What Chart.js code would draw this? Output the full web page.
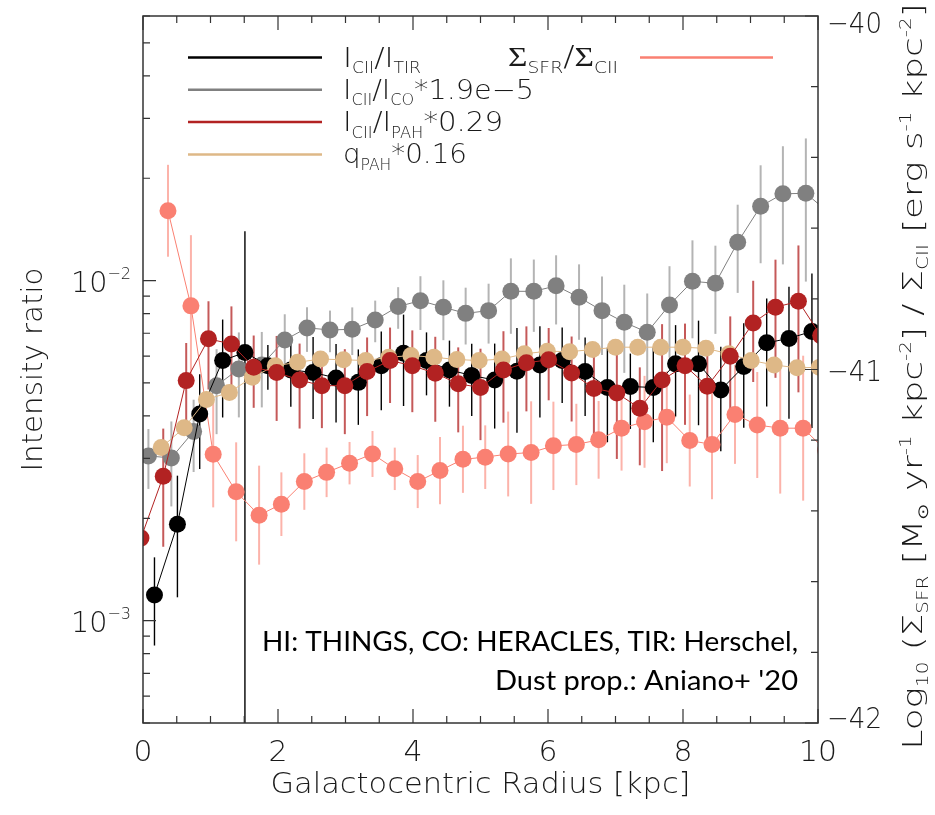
<!DOCTYPE html>
<html>
<head>
<meta charset="utf-8">
<script src="https://cdn.jsdelivr.net/npm/chart.js@4.4.1/dist/chart.umd.min.js"></script>
<style>
  body { margin: 0; background: #fff; }
  canvas { display: block; }
</style>
</head>
<body>
<canvas id="chart" width="935" height="815"></canvas>
<script>
// radii (kpc) of each profile, bins are slightly shifted per series
const radiusTIR = [0.17, 0.51, 0.84, 1.18, 1.51, 1.85, 2.19, 2.52, 2.86, 3.19, 3.53, 3.86, 4.20, 4.54, 4.87, 5.21, 5.54, 5.88, 6.21, 6.55, 6.88, 7.22, 7.56, 7.89, 8.23, 8.56, 8.90, 9.24, 9.57, 9.91];
const ratioTIR = [1.19e-3, 1.92e-3, 4.05e-3, 5.82e-3, 6.15e-3, 5.62e-3, 5.46e-3, 5.37e-3, 5.17e-3, 5.02e-3, 5.62e-3, 6.11e-3, 5.82e-3, 5.46e-3, 5.26e-3, 5.10e-3, 5.41e-3, 5.65e-3, 5.82e-3, 5.40e-3, 4.85e-3, 4.88e-3, 4.85e-3, 5.69e-3, 5.69e-3, 4.77e-3, 5.59e-3, 6.56e-3, 6.76e-3, 7.09e-3];
const errTIR = [0.29, 0.39, 0.31, 0.32, 1.27, 0.15, 0.22, 0.27, 0.26, 0.25, 0.26, 0.30, 0.21, 0.22, 0.24, 0.28, 0.34, 0.30, 0.25, 0.26, 0.31, 0.25, 0.31, 0.30, 0.34, 0.34, 0.34, 0.35, 0.42, 0.48];

const radiusCO = [0.08, 0.42, 0.75, 1.09, 1.42, 1.76, 2.10, 2.43, 2.77, 3.10, 3.44, 3.78, 4.11, 4.45, 4.78, 5.12, 5.45, 5.79, 6.12, 6.46, 6.80, 7.13, 7.47, 7.80, 8.14, 8.48, 8.81, 9.15, 9.48, 9.82, 10.15];
const ratioCO = [3.05e-3, 3.01e-3, 3.60e-3, 4.91e-3, 5.50e-3, 5.65e-3, 6.69e-3, 7.26e-3, 7.16e-3, 7.19e-3, 7.66e-3, 8.39e-3, 8.73e-3, 8.35e-3, 8.01e-3, 8.16e-3, 9.30e-3, 9.30e-3, 9.65e-3, 8.93e-3, 8.16e-3, 7.54e-3, 7.05e-3, 8.48e-3, 9.95e-3, 9.82e-3, 1.296e-2, 1.654e-2, 1.80e-2, 1.806e-2, 1.59e-2];
const errCO = [0.20, 0.28, 0.24, 0.28, 0.28, 0.25, 0.19, 0.15, 0.14, 0.16, 0.14, 0.14, 0.18, 0.20, 0.19, 0.20, 0.25, 0.24, 0.23, 0.25, 0.26, 0.29, 0.30, 0.30, 0.32, 0.29, 0.29, 0.32, 0.38, 0.45, 0.45];

const radiusPAH = [-0.03, 0.30, 0.64, 0.97, 1.31, 1.64, 1.98, 2.32, 2.65, 2.99, 3.32, 3.66, 3.99, 4.33, 4.67, 5.00, 5.34, 5.68, 6.01, 6.35, 6.68, 7.02, 7.36, 7.69, 8.03, 8.36, 8.70, 9.04, 9.37, 9.71, 10.04];
const ratioPAH = [1.75e-3, 2.66e-3, 5.08e-3, 6.74e-3, 6.51e-3, 5.56e-3, 5.37e-3, 5.10e-3, 4.91e-3, 4.91e-3, 5.40e-3, 5.82e-3, 5.62e-3, 5.34e-3, 4.97e-3, 4.85e-3, 5.46e-3, 5.73e-3, 5.85e-3, 5.35e-3, 4.82e-3, 4.67e-3, 4.21e-3, 5.10e-3, 5.62e-3, 4.89e-3, 5.99e-3, 7.51e-3, 8.35e-3, 8.69e-3, 6.89e-3];
const errPAH = [0.35, 0.38, 0.29, 0.29, 0.29, 0.24, 0.28, 0.28, 0.25, 0.28, 0.26, 0.25, 0.27, 0.28, 0.28, 0.30, 0.30, 0.28, 0.24, 0.28, 0.32, 0.36, 0.32, 0.46, 0.33, 0.33, 0.31, 0.33, 0.38, 0.46, 0.46];

const radiusQ = [0.27, 0.61, 0.94, 1.28, 1.62, 1.96, 2.29, 2.63, 2.97, 3.30, 3.64, 3.97, 4.31, 4.65, 4.98, 5.32, 5.65, 5.99, 6.32, 6.66, 7.00, 7.33, 7.67, 8.00, 8.34, 8.68, 9.01, 9.35, 9.69, 10.02];
const qPAH = [3.23e-3, 3.69e-3, 4.47e-3, 4.69e-3, 5.20e-3, 5.62e-3, 5.75e-3, 5.88e-3, 5.85e-3, 5.82e-3, 5.95e-3, 6.02e-3, 5.95e-3, 5.86e-3, 5.82e-3, 5.88e-3, 6.09e-3, 6.20e-3, 6.18e-3, 6.27e-3, 6.37e-3, 6.37e-3, 6.37e-3, 6.37e-3, 6.32e-3, 6.09e-3, 5.82e-3, 5.65e-3, 5.54e-3, 5.56e-3];

// log10(Sigma_SFR / Sigma_CII), right axis
const radiusSFR = [0.37, 0.71, 1.04, 1.38, 1.72, 2.05, 2.39, 2.72, 3.06, 3.40, 3.73, 4.07, 4.40, 4.74, 5.07, 5.41, 5.75, 6.08, 6.42, 6.75, 7.09, 7.43, 7.76, 8.10, 8.43, 8.77, 9.10, 9.44, 9.78, 10.11];
const logSfrCii = [-40.551, -40.820, -41.240, -41.346, -41.412, -41.381, -41.317, -41.291, -41.265, -41.239, -41.281, -41.317, -41.286, -41.254, -41.248, -41.239, -41.235, -41.216, -41.212, -41.199, -41.166, -41.148, -41.135, -41.201, -41.212, -41.127, -41.157, -41.166, -41.166, -41.228];
const errSfrCii = [0.13, 0.20, 0.15, 0.14, 0.14, 0.09, 0.08, 0.07, 0.06, 0.065, 0.06, 0.075, 0.095, 0.095, 0.09, 0.12, 0.145, 0.125, 0.115, 0.11, 0.12, 0.13, 0.13, 0.13, 0.155, 0.14, 0.15, 0.185, 0.205, 0.2];

const xTicks = [0, 2, 4, 6, 8, 10];
const yTicks = [1e-3, 1e-2];
const y2Ticks = [-42, -41, -40];

const idlFont = '"DejaVu Sans", sans-serif';
const ink = "#1a1a1a";

function pts(xs, ys) {
  return xs.map((x, i) => ({ x: x, y: ys[i] }));
}

// draws text with subscripts / superscripts, parts = [[text, "n"|"b"|"p", family?]]
// if width is given the run is stretched sideways to that width (IDL fonts are wide)
function rich(ctx, parts, x, y, size, align, width) {
  const fontOf = (p) => {
    const s = p[1] === "n" ? size : size * 0.56;
    return "200 " + s + "px " + (p[2] || idlFont);
  };
  let w = 0;
  parts.forEach((p) => { ctx.font = fontOf(p); w += ctx.measureText(p[0]).width; });
  const k = width ? width / w : 1;
  const tw = w * k;
  const x0 = align === "right" ? x - tw : align === "center" ? x - tw / 2 : x;
  ctx.save();
  ctx.translate(x0, y);
  ctx.scale(k, 1);
  ctx.textAlign = "left";
  ctx.textBaseline = "alphabetic";
  let cx = 0;
  parts.forEach((p) => {
    ctx.font = fontOf(p);
    const dy = p[1] === "b" ? size * 0.24 : p[1] === "p" ? -size * 0.42 : 0;
    ctx.fillText(p[0], cx, dy);
    cx += ctx.measureText(p[0]).width;
  });
  ctx.restore();
}

const errorBars = {
  id: "errorBars",
  beforeDatasetsDraw(chart) {
    const { ctx, chartArea: a } = chart;
    ctx.save();
    ctx.beginPath();
    ctx.rect(a.left, a.top, a.right - a.left, a.bottom - a.top);
    ctx.clip();
    const list = chart.data.datasets.filter((d) => d.err).sort((p, q) => q.order - p.order);
    list.forEach((ds) => {
      const xs = chart.scales.x;
      const ys = chart.scales[ds.yAxisID];
      ctx.strokeStyle = ds.errColor;
      ctx.lineWidth = ds.errWidth;
      ds.data.forEach((p, i) => {
        const e = ds.err[i];
        let hi, lo;
        if (ds.errRel) {
          hi = ys.getPixelForValue(p.y * (1 + e));
          lo = p.y * (1 - e) > 0 ? ys.getPixelForValue(p.y * (1 - e)) : a.bottom + 5;
        } else {
          hi = ys.getPixelForValue(p.y + e);
          lo = ys.getPixelForValue(p.y - e);
        }
        const px = xs.getPixelForValue(p.x);
        ctx.beginPath();
        ctx.moveTo(px, hi);
        ctx.lineTo(px, lo);
        ctx.stroke();
      });
    });
    ctx.restore();
  },
};

const frame = {
  id: "frame",
  afterDraw(chart) {
    const { ctx, chartArea: a, scales } = chart;
    const xs = scales.x, ys = scales.y, y2 = scales.y2;
    ctx.save();
    ctx.strokeStyle = "#333";
    ctx.lineWidth = 1.5;
    ctx.strokeRect(a.left, a.top, a.right - a.left, a.bottom - a.top);
    ctx.lineWidth = 1.2;
    ctx.beginPath();
    // x ticks, bottom and top
    for (let v = 0; v <= 10.001; v += 0.5) {
      const px = xs.getPixelForValue(v);
      const len = xTicks.includes(Math.round(v * 10) / 10) ? 14 : 7;
      ctx.moveTo(px, a.bottom); ctx.lineTo(px, a.bottom - len);
      ctx.moveTo(px, a.top); ctx.lineTo(px, a.top + len);
    }
    // left log ticks
    for (let d = -4; d <= -1; d++) {
      for (let k = 1; k <= 9; k++) {
        const v = k * Math.pow(10, d);
        if (v < ys.min || v > ys.max) continue;
        const py = ys.getPixelForValue(v);
        const len = k === 1 ? 13 : 7;
        ctx.moveTo(a.left, py); ctx.lineTo(a.left + len, py);
      }
    }
    // right linear ticks
    for (let i = 0; i <= 10; i++) {
      const v = -42 + i * 0.2;
      const py = y2.getPixelForValue(v);
      const len = i % 5 === 0 ? 13 : 7;
      ctx.moveTo(a.right, py); ctx.lineTo(a.right - len, py);
    }
    ctx.stroke();

    ctx.fillStyle = ink;
    // x tick labels
    xTicks.forEach((v) => {
      const s = String(v);
      rich(ctx, [[s, "n"]], xs.getPixelForValue(v), 761, 29, "center", s.length * 19);
    });
    // left tick labels
    yTicks.forEach((v) => {
      const py = ys.getPixelForValue(v);
      rich(ctx, [["10", "n"], ["\u2212" + Math.round(-Math.log10(v)), "p"]], 131, py + 11, 29, "right", 60);
    });
    // right tick labels
    y2Ticks.forEach((v) => {
      let py = y2.getPixelForValue(v);
      py = Math.min(Math.max(py, a.top + 6), a.bottom - 6);
      rich(ctx, [["\u2212" + Math.abs(v), "n"]], 827, py + 11, 29, "left", 55);
    });
    // axis titles
    const midX = (a.left + a.right) / 2;
    const midY = (a.top + a.bottom) / 2;
    rich(ctx, [["Galactocentric Radius [kpc]", "n"]], midX, 793, 28, "center", 420);
    ctx.save();
    ctx.translate(42, midY);
    ctx.rotate(-Math.PI / 2);
    rich(ctx, [["Intensity ratio", "n"]], 0, 0, 28, "center", 204);
    ctx.restore();
    ctx.save();
    ctx.translate(922, midY);
    ctx.rotate(-Math.PI / 2);
    rich(ctx, [
      ["Log", "n"], ["10", "b"], [" (\u03A3", "n"], ["SFR", "b"], [" [M", "n"], ["\u2299", "b"],
      [" yr", "n"], ["-1", "p"], [" kpc", "n"], ["-2", "p"], ["] / \u03A3", "n"], ["CII", "b"],
      [" [erg s", "n"], ["-1", "p"], [" kpc", "n"], ["-2", "p"], ["])", "n"],
    ], 0, 0, 27, "center", 760);
    ctx.restore();

    // legend
    const rows = [
      ["#000000", 78, [["I", "n"], ["CII", "b"], ["/", "n"], ["I", "n"], ["TIR", "b"]]],
      ["#808080", 191, [["I", "n"], ["CII", "b"], ["/", "n"], ["I", "n"], ["CO", "b"], ["*1.9e\u22125", "n"]]],
      ["#b22222", 160, [["I", "n"], ["CII", "b"], ["/", "n"], ["I", "n"], ["PAH", "b"], ["*0.29", "n"]]],
      ["#deb887", 124, [["q", "n"], ["PAH", "b"], ["*0.16", "n"]]],
    ];
    rows.forEach((r, i) => {
      const ly = 57.5 + i * 32.3;
      ctx.strokeStyle = r[0];
      ctx.lineWidth = 2.5;
      ctx.beginPath(); ctx.moveTo(188, ly); ctx.lineTo(322, ly); ctx.stroke();
      ctx.fillStyle = ink;
      rich(ctx, r[2], 343, ly + 9, 27, "left", r[1]);
    });
    ctx.strokeStyle = "#fa8072";
    ctx.beginPath(); ctx.moveTo(640, 57.5); ctx.lineTo(773, 57.5); ctx.stroke();
    const serif = '"Liberation Serif", serif';
    rich(ctx, [["\u03A3", "n", serif], ["SFR", "b"], ["/", "n"], ["\u03A3", "n", serif], ["CII", "b"]], 508, 66, 28, "left", 110);

    // data source note
    ctx.fillStyle = "#000";
    const note = (txt, y, w) => {
      ctx.save();
      ctx.font = "26px Lato, sans-serif";
      const k = w / ctx.measureText(txt).width;
      ctx.translate(798 - w, y);
      ctx.scale(k, 1);
      ctx.textAlign = "left";
      ctx.fillText(txt, 0, 0);
      ctx.restore();
    };
    note("HI: THINGS, CO: HERACLES, TIR: Herschel,", 651, 536);
    note("Dust prop.: Aniano+ '20", 690, 303);
    ctx.restore();
  },
};

function series(label, xs, ys, color, order, extra) {
  return Object.assign({
    label: label,
    data: pts(xs, ys),
    showLine: true,
    borderColor: color,
    backgroundColor: color,
    borderWidth: 1,
    pointRadius: 8.5,
    pointBorderWidth: 0,
    pointBackgroundColor: color,
    yAxisID: "y",
    order: order,
    clip: 0,
  }, extra || {});
}

new Chart(document.getElementById("chart"), {
  type: "scatter",
  data: {
    datasets: [
      series("Sigma_SFR/Sigma_CII", radiusSFR, logSfrCii, "#fa8072", 5,
        { yAxisID: "y2", err: errSfrCii, errRel: false, errColor: "rgba(250,128,114,0.6)", errWidth: 2 }),
      series("I_CII/I_CO*1.9e-5", radiusCO, ratioCO, "#808080", 4,
        { err: errCO, errRel: true, errColor: "#b4b4b4", errWidth: 2 }),
      series("I_CII/I_TIR", radiusTIR, ratioTIR, "#000000", 3,
        { err: errTIR, errRel: true, errColor: "#000000", errWidth: 1.4 }),
      series("q_PAH*0.16", radiusQ, qPAH, "#deb887", 2),
      series("I_CII/I_PAH*0.29", radiusPAH, ratioPAH, "#b22222", 1,
        { err: errPAH, errRel: true, errColor: "rgba(178,34,34,0.75)", errWidth: 2 }),
    ],
  },
  options: {
    responsive: false,
    animation: false,
    layout: { padding: { top: 16, left: 0, right: 0, bottom: 0 } },
    scales: {
      x: {
        type: "linear", min: 0, max: 10,
        ticks: { display: false }, grid: { display: false }, border: { display: false },
        afterFit: (s) => { s.height = 92; },
      },
      y: {
        type: "logarithmic", position: "left", min: 5e-4, max: 0.06,
        ticks: { display: false }, grid: { display: false }, border: { display: false },
        afterFit: (s) => { s.width = 143; },
      },
      y2: {
        type: "linear", position: "right", min: -42, max: -40,
        ticks: { display: false }, grid: { display: false }, border: { display: false },
        afterFit: (s) => { s.width = 117; },
      },
    },
    plugins: {
      legend: { display: false },
      tooltip: { enabled: false },
    },
  },
  plugins: [errorBars, frame],
});
</script>
</body>
</html>
